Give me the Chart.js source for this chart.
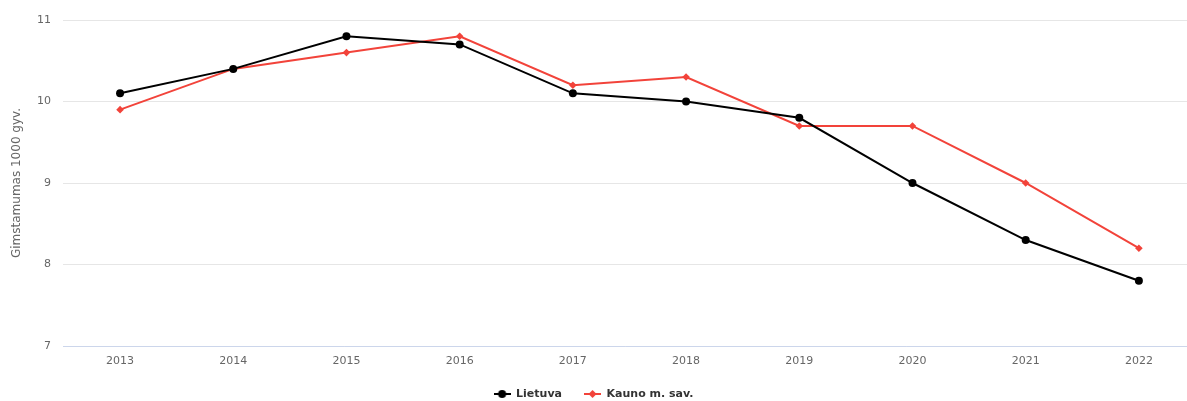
<!DOCTYPE html>
<html>
<head>
<meta charset="utf-8">
<script src="https://cdn.jsdelivr.net/npm/chart.js@4/dist/chart.umd.min.js"></script>
<style>
  html, body { margin: 0; padding: 0; background: #fff; }
  #wrap { width: 1187px; height: 401px; }
</style>
</head>
<body>
<div id="wrap"><canvas id="grafikas" width="1187" height="401"></canvas></div>
<script>
// Duomenys
const metai = [2013, 2014, 2015, 2016, 2017, 2018, 2019, 2020, 2021, 2022];
const lietuva = [10.1, 10.4, 10.8, 10.7, 10.1, 10.0, 9.8, 9.0, 8.3, 7.8];
const kaunas = [9.9, 10.4, 10.6, 10.8, 10.2, 10.3, 9.7, 9.7, 9.0, 8.2];
const yTicks = [7, 8, 9, 10, 11];

const raudona = '#f2433a';
const pilka = '#666666';

// legendos ikonos: linija + taskas
function legendosIkona(spalva, stilius) {
    const c = document.createElement('canvas');
    c.width = 17; c.height = 10;
    const x = c.getContext('2d');
    x.strokeStyle = spalva; x.lineWidth = 2;
    x.beginPath(); x.moveTo(0, 5); x.lineTo(17, 5); x.stroke();
    x.fillStyle = spalva;
    x.beginPath();
    if (stilius === 'circle') {
        x.arc(8.5, 5, 4, 0, Math.PI * 2);
    } else {
        x.moveTo(8.5, 1); x.lineTo(12.5, 5); x.lineTo(8.5, 9); x.lineTo(4.5, 5); x.closePath();
    }
    x.fill();
    return c;
}
const ikonos = [legendosIkona('#000', 'circle'), legendosIkona(raudona, 'diamond')];

const ctx = document.getElementById('grafikas').getContext('2d');
new Chart(ctx, {
    type: 'line',
    data: {
        datasets: [{
            label: 'Lietuva',
            data: metai.map((m, i) => ({ x: m, y: lietuva[i] })),
            borderColor: '#000',
            backgroundColor: '#000',
            borderWidth: 2,
            pointStyle: 'circle',
            pointRadius: 4,
            pointBorderWidth: 0,
            pointHoverRadius: 4,
            tension: 0
        }, {
            label: 'Kauno m. sav.',
            data: metai.map((m, i) => ({ x: m, y: kaunas[i] })),
            borderColor: raudona,
            backgroundColor: raudona,
            borderWidth: 2,
            pointStyle: 'rectRot',
            pointRadius: 3.8,
            pointBorderWidth: 0,
            pointHoverRadius: 3.8,
            tension: 0
        }]
    },
    options: {
        responsive: false,
        animation: false,
        layout: { autoPadding: false, padding: { top: 20, right: 0, left: 0, bottom: -8.5 } },
        scales: {
            x: {
                type: 'linear',
                min: 2012.496,
                max: 2022.425,
                afterBuildTicks: (ax) => { ax.ticks = metai.map(v => ({ value: v })); },
                afterFit: (ax) => { ax.height = 20.5; ax.paddingRight = 0; ax.paddingLeft = 0; },
                grid: { display: false, drawTicks: false },
                border: { display: true, color: '#ccd6eb', width: 1, z: 1 },
                ticks: {
                    color: pilka,
                    font: { family: 'DejaVu Sans', size: 11 },
                    padding: 9,
                    maxRotation: 0,
                    callback: (v) => String(v)
                }
            },
            y: {
                min: 7,
                max: 11,
                afterBuildTicks: (ax) => { ax.ticks = yTicks.map(v => ({ value: v })); },
                afterFit: (ax) => { ax.width = 63; },
                grid: { color: '#e6e6e6', drawTicks: false },
                border: { display: false },
                ticks: {
                    color: pilka,
                    font: { family: 'DejaVu Sans', size: 11 },
                    padding: 12
                },
                title: {
                    display: true,
                    text: 'Gimstamumas 1000 gyv.',
                    color: pilka,
                    font: { family: 'DejaVu Sans', size: 12 },
                    padding: { top: 10, bottom: 6 }
                }
            }
        },
        plugins: {
            tooltip: { enabled: false },
            legend: {
                position: 'bottom',
                labels: {
                    usePointStyle: true,
                    pointStyleWidth: 17,
                    color: '#333',
                    font: { family: 'DejaVu Sans', size: 11, weight: 'bold' },
                    padding: 22,
                    generateLabels: (chart) => {
                        const l = Chart.defaults.plugins.legend.labels.generateLabels(chart);
                        l.forEach((e, i) => { e.pointStyle = ikonos[i]; });
                        return l;
                    }
                }
            }
        }
    }
});
</script>
</body>
</html>
